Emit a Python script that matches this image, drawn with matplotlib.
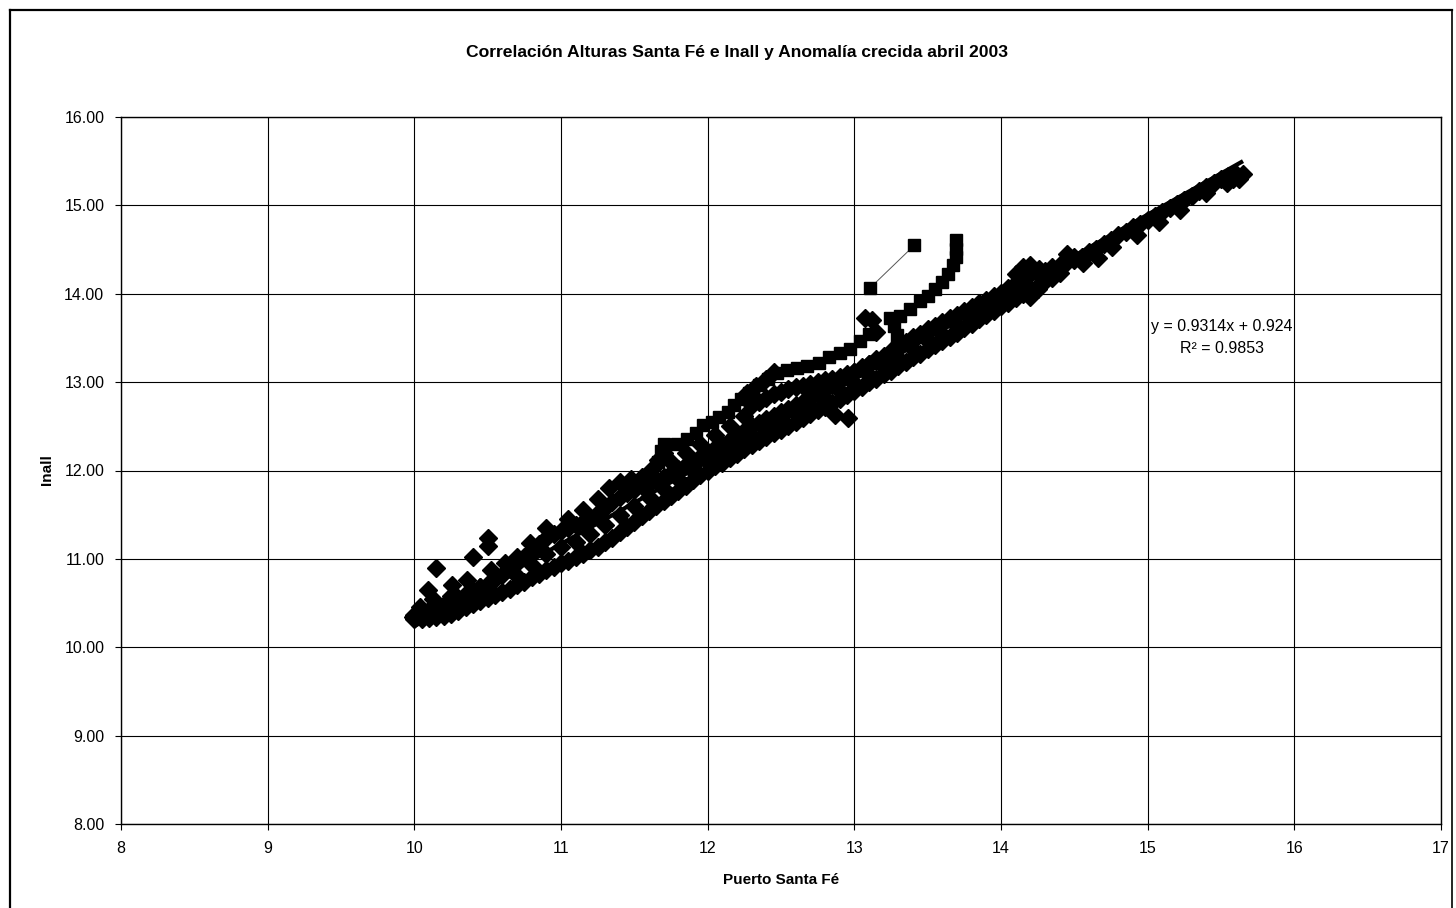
import numpy as np
import matplotlib
matplotlib.use("Agg")
import matplotlib.pyplot as plt
from matplotlib.lines import Line2D

plt.rcParams['font.family'] = ['Liberation Sans', 'DejaVu Sans']

title = "Correlación Alturas Santa Fé e Inall y Anomalía crecida abril 2003"
xlabel = "Puerto Santa Fé"
ylabel = "Inall"
eq_text = "y = 0.9314x + 0.924"
r2_text = "R² = 0.9853"
slope = 0.9314
intercept = 0.924
trend_x = [10.0, 15.65]

x_ticks = [8, 9, 10, 11, 12, 13, 14, 15, 16, 17]
y_ticks = [8.0, 9.0, 10.0, 11.0, 12.0, 13.0, 14.0, 15.0, 16.0]

# main band (diamonds)
main_x = [10.0, 10.1, 10.2, 10.3, 10.4, 10.5, 10.6, 10.7, 10.8, 10.9,
          11.0, 11.1, 11.2, 11.3, 11.4, 11.5, 11.6, 11.7, 11.8, 11.9,
          12.0, 12.1, 12.2, 12.3, 12.4, 12.5, 12.6, 12.7, 12.8, 12.9,
          13.0, 13.1, 13.2, 13.3, 13.4, 13.5, 13.6, 13.7, 13.8, 13.9,
          14.0, 14.1, 14.2, 14.3, 14.4, 14.5, 14.6, 14.7, 14.8, 14.9,
          15.0, 15.1, 15.2, 15.3, 15.4, 15.5, 15.6]
lower_y = [10.32, 10.33, 10.35, 10.41, 10.49, 10.56, 10.62, 10.70, 10.79, 10.87,
           10.95, 11.02, 11.10, 11.19, 11.30, 11.42, 11.54, 11.65, 11.77, 11.89,
           12.00, 12.09, 12.19, 12.29, 12.38, 12.46, 12.55, 12.64, 12.72, 12.81,
           12.90, 13.00, 13.09, 13.18, 13.28, 13.37, 13.47, 13.56, 13.66, 13.76,
           13.86, 13.95, 14.05, 14.14, 14.23]
upper_y = [10.36, 10.42, 10.48, 10.56, 10.64, 10.72, 10.82, 10.95, 11.10, 11.24,
           11.32, 11.38, 11.46, 11.58, 11.70, 11.78, 11.85, 11.93, 12.02, 12.10,
           12.20, 12.30, 12.40, 12.50, 12.58, 12.66, 12.74, 12.82, 12.92, 13.02,
           13.12, 13.21, 13.30, 13.40, 13.51, 13.60, 13.68, 13.76, 13.85, 13.93,
           14.01, 14.12, 14.22, 14.26, 14.33, 14.38, 14.47, 14.56, 14.66, 14.75,
           14.84, 14.93, 15.02, 15.11, 15.21, 15.30, 15.36]
half_x = [10.05, 10.15, 10.25, 10.35, 10.45, 10.55, 10.65, 10.75, 10.85, 10.95,
          11.05, 11.15, 11.25, 11.35, 11.45, 11.55, 11.65, 11.75, 11.85, 11.95,
          12.05, 12.15, 12.25, 12.35, 12.45, 12.55, 12.65, 12.75, 12.85, 12.95,
          13.05, 13.15, 13.25, 13.35, 13.45, 13.55, 13.65, 13.75, 13.85, 13.95,
          14.05, 14.15, 14.25, 14.35, 14.45, 14.55, 14.65, 14.75, 14.85, 14.95,
          15.05, 15.15, 15.25, 15.35, 15.45, 15.55]
lower2_y = [10.32, 10.34, 10.38, 10.45, 10.52, 10.59, 10.66, 10.74, 10.83, 10.91,
            10.98, 11.06, 11.14, 11.24, 11.36, 11.48, 11.60, 11.71, 11.83, 11.95,
            12.05, 12.14, 12.24, 12.33, 12.42, 12.50, 12.59, 12.68, 12.76, 12.85,
            12.95, 13.04, 13.13, 13.23, 13.32, 13.42, 13.51, 13.61, 13.71, 13.81,
            13.90, 14.00, 14.09, 14.18]
upper2_y = [10.39, 10.45, 10.52, 10.60, 10.68, 10.77, 10.88, 11.02, 11.17, 11.28,
            11.35, 11.42, 11.52, 11.64, 11.74, 11.82, 11.89, 11.97, 12.06, 12.15,
            12.25, 12.35, 12.45, 12.54, 12.62, 12.70, 12.78, 12.87, 12.97, 13.07,
            13.17, 13.26, 13.35, 13.45, 13.55, 13.64, 13.72, 13.80, 13.89, 13.97,
            14.06, 14.17, 14.24, 14.30, 14.36, 14.42, 14.51, 14.61, 14.70, 14.79,
            14.88, 14.97, 15.06, 15.16, 15.25, 15.33]
mid_x = [10.7, 10.8, 10.9, 11.0, 11.1, 11.2, 11.3, 11.4, 11.5, 11.6, 11.7,
         11.8, 11.9, 12.0, 12.1, 12.2, 12.3, 12.4, 12.5, 12.6, 12.7, 12.8,
         12.9, 13.0, 13.1, 13.2, 13.3, 13.4, 13.5, 13.6, 13.7, 13.8, 13.9]
mid_y = [10.81, 10.93, 11.05, 11.13, 11.19, 11.28, 11.38, 11.50, 11.60, 11.70, 11.79,
         11.90, 12.00, 12.10, 12.19, 12.29, 12.39, 12.48, 12.56, 12.64, 12.73, 12.81,
         12.90, 12.99, 13.08, 13.17, 13.27, 13.37, 13.46, 13.55, 13.64, 13.74, 13.83]

# scattered diamonds (outliers, upper branch, bulges)
extra_x = [9.99, 10.04, 10.09, 10.13, 10.15, 10.26, 10.36, 10.40, 10.50, 10.50,
           10.52, 10.62, 10.70, 10.79, 10.90, 10.25, 10.45,
           11.05, 11.15, 11.25, 11.33, 11.40, 11.48, 11.55, 11.62, 11.66, 11.70,
           11.75, 11.85, 11.95, 12.05, 12.15, 12.25,
           12.3, 12.4, 12.5, 12.6, 12.7, 12.8, 12.9, 13.0, 13.1, 13.2,
           12.35, 12.45, 12.55, 12.65, 12.75, 12.85, 12.95, 13.05, 13.15,
           12.27, 12.33, 12.40, 12.45, 13.07, 13.12, 13.15,
           12.87, 12.96,
           14.10, 14.15, 14.20, 14.26, 14.30, 14.20, 14.25, 14.45, 14.50,
           14.56, 14.66, 14.76, 14.93, 15.08, 15.22, 15.40, 15.54, 15.62, 15.65, 15.58]
extra_y = [10.34, 10.45, 10.65, 10.55, 10.90, 10.70, 10.76, 11.02, 11.15, 11.24,
           10.87, 10.95, 11.02, 11.18, 11.35, 10.58, 10.68,
           11.45, 11.55, 11.68, 11.80, 11.87, 11.90, 11.93, 12.02, 12.12, 12.20,
           12.10, 12.20, 12.30, 12.40, 12.50, 12.62,
           12.74, 12.82, 12.89, 12.94, 12.98, 13.02, 13.06, 13.12, 13.20, 13.28,
           12.78, 12.86, 12.92, 12.96, 13.00, 13.04, 13.09, 13.16, 13.24,
           12.88, 12.96, 13.04, 13.12, 13.73, 13.70, 13.57,
           12.63, 12.59,
           14.22, 14.30, 14.33, 14.28, 14.20, 13.96, 14.05, 14.45, 14.42,
           14.35, 14.40, 14.53, 14.66, 14.81, 14.95, 15.14, 15.25, 15.30, 15.35, 15.30]

# anomaly April 2003 (squares, connected); nan separates segments
anom_x = [11.60, 11.66, 11.68, 11.70, 11.79, 11.86, 11.92, 11.97, 12.03, 12.08,
          12.14, 12.18, 12.23, 12.28, 12.35, 12.41, 12.47, 12.54, 12.61, 12.68,
          12.76, 12.83, 12.90, 12.97, 13.04, 13.10, np.nan,
          13.11, 13.41, np.nan,
          13.22, 13.26, 13.29, 13.29, 13.27, 13.24, 13.31, 13.38, 13.45, 13.50,
          13.55, 13.60, 13.64, 13.67, 13.69, 13.69, 13.69]
anom_y = [11.95, 12.10, 12.22, 12.30, 12.30, 12.36, 12.42, 12.51, 12.55, 12.60,
          12.66, 12.74, 12.81, 12.88, 12.97, 13.04, 13.10, 13.14, 13.16, 13.18,
          13.22, 13.28, 13.33, 13.38, 13.46, 13.55, np.nan,
          14.07, 14.55, np.nan,
          13.18, 13.28, 13.40, 13.53, 13.64, 13.73, 13.75, 13.83, 13.92, 13.98,
          14.05, 14.13, 14.22, 14.32, 14.42, 14.51, 14.61]

W, H = 1456, 908
fig = plt.figure(figsize=(W / 100, H / 100), dpi=100)
fig.patch.set_facecolor('white')
ax = fig.add_axes([121 / W, (H - 824) / H, (1441 - 121) / W, (824 - 117) / H])

diam_x = (main_x[:len(lower_y)] + main_x + half_x[:len(lower2_y)] + half_x
          + mid_x + extra_x)
diam_y = lower_y + upper_y + lower2_y + upper2_y + mid_y + extra_y
ax.plot(diam_x, diam_y, linestyle='none', marker='D', markersize=9.2,
        color='black', zorder=3)
ax.plot(anom_x, anom_y, linestyle='-', linewidth=0.7, color='#555555',
        marker='s', markersize=8.5, markerfacecolor='black',
        markeredgecolor='black', zorder=4)
tx = np.array(trend_x)
ax.plot(tx, slope * tx + intercept, color='black', linewidth=3.0, zorder=5,
        solid_capstyle='butt')

ax.set_xlim(8, 17)
ax.set_ylim(8, 16)
ax.set_xticks(x_ticks)
ax.set_xticklabels([str(t) for t in x_ticks])
ax.set_yticks(y_ticks)
ax.set_yticklabels(["%.2f" % t for t in y_ticks])
ax.grid(True, color='black', linewidth=0.8, zorder=0)
ax.set_axisbelow(True)
for s in ax.spines.values():
    s.set_linewidth(1.0)
    s.set_color('black')
ax.tick_params(axis='both', direction='out', length=4, width=0.8,
               labelsize=11.5, pad=8, colors='black')

ax.text(15.507, 13.635, eq_text, ha='center', va='center', fontsize=11.5)
ax.text(15.507, 13.375, r2_text, ha='center', va='center', fontsize=11.5)

fig.text(737 / W, 1 - 53 / H, title, ha='center', va='center',
         fontsize=12.6, fontweight='bold')
fig.text(781 / W, 1 - 880 / H, xlabel, ha='center', va='center',
         fontsize=11, fontweight='bold')
fig.text(47 / W, 1 - 470 / H, ylabel, ha='center', va='center',
         fontsize=11, fontweight='bold', rotation=90)

# outer chart border
bx0, bx1, by = 10 / W, 1452 / W, 1 - 10 / H
fig.add_artist(Line2D([bx0, bx0], [0, by], transform=fig.transFigure,
                      color='black', linewidth=1.6))
fig.add_artist(Line2D([bx0, bx1], [by, by], transform=fig.transFigure,
                      color='black', linewidth=1.6))
fig.add_artist(Line2D([bx1, bx1], [0, by], transform=fig.transFigure,
                      color='black', linewidth=1.2))

fig.savefig("out.png", dpi=100, facecolor='white')
